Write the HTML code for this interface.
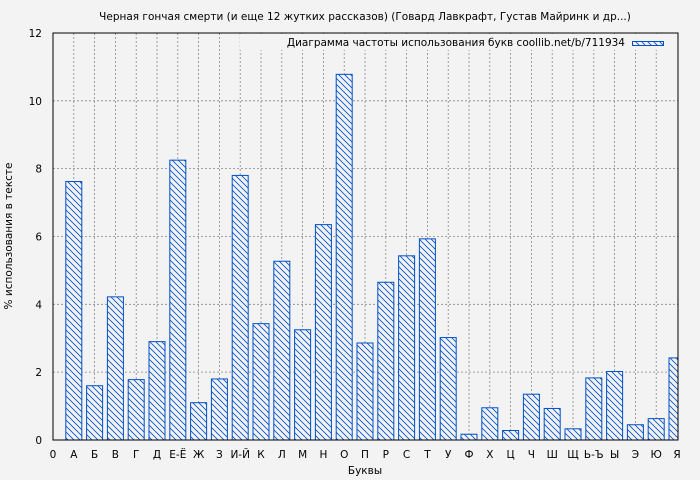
<!DOCTYPE html>
<html><head><meta charset="utf-8"><style>
body{margin:0;background:#f3f3f3;width:700px;height:480px;overflow:hidden}
svg{display:block;font-family:"DejaVu Sans","Liberation Sans",sans-serif}
</style></head><body>
<svg id="s" width="700" height="480" xmlns="http://www.w3.org/2000/svg">
<defs>
<pattern id="h" patternUnits="userSpaceOnUse" width="6" height="6">
<rect width="6" height="6" fill="#f3f3f3"/>
<path d="M-1,-1 L7,7 M-1,5 L1,7 M5,-1 L7,1" stroke="#0050c8" stroke-width="0.8"/>
</pattern>
<clipPath id="c"><rect x="53" y="33" width="625" height="407"/></clipPath>
</defs>
<rect width="700" height="480" fill="#f3f3f3"/>
<text x="365" y="20" font-size="10.5" text-anchor="middle" fill="#000">Черная гончая смерти (и еще 12 жутких рассказов) (Говард Лавкрафт, Густав Майринк и др...)</text>
<g id="grid"></g>
<g id="bars" clip-path="url(#c)"></g>
<rect x="53" y="33" width="625" height="407" fill="none" stroke="#000" stroke-width="1"/>
<rect x="240" y="34" width="436" height="16" fill="#f3f3f3"/>
<text x="625" y="46" font-size="10.5" text-anchor="end">Диаграмма частоты использования букв coollib.net/b/711934</text>
<rect x="632.5" y="41.5" width="31" height="4" fill="url(#h)" stroke="#0050c8"/>
<g id="lab" font-size="10.5"></g>
<text x="365" y="474" font-size="10.5" text-anchor="middle">Буквы</text>
<text transform="translate(12,236) rotate(-90)" font-size="10.5" text-anchor="middle">% использования в тексте</text>
</svg>
<script>
var L=["0","А","Б","В","Г","Д","Е-Ё","Ж","З","И-Й","К","Л","М","Н","О","П","Р","С","Т","У","Ф","Х","Ц","Ч","Ш","Щ","Ь-Ъ","Ы","Э","Ю","Я"];
var V=[null,7.62,1.6,4.22,1.78,2.9,8.25,1.1,1.8,7.8,3.43,5.27,3.25,6.35,10.78,2.86,4.65,5.43,5.93,3.02,0.17,0.95,0.28,1.35,0.93,0.33,1.83,2.02,0.45,0.63,2.42];
var g="",b="",l="",x0=53,dx=20.8,y0=440,k=33.92;
for(var i=0;i<31;i++){var x=x0+i*dx;
 if(i>0&&i<30)g+='<line x1="'+x+'" y1="33" x2="'+x+'" y2="440" stroke="#888" stroke-dasharray="2,2" stroke-width="0.8"/>';
 l+='<text x="'+x+'" y="458" text-anchor="middle">'+L[i]+'</text>';
 if(V[i]!=null){var h=V[i]*k;b+='<rect x="'+(x-8)+'" y="'+(y0-h)+'" width="16" height="'+h+'" fill="url(#h)" stroke="#0050c8" stroke-width="1"/>';}
}
for(var j=0;j<=12;j+=2){var y=y0-j*k;
 if(j>0&&j<12)g+='<line x1="53" y1="'+y+'" x2="678" y2="'+y+'" stroke="#888" stroke-dasharray="2,2" stroke-width="0.8"/>';
 l+='<text x="42" y="'+(y+4)+'" text-anchor="end">'+j+'</text>';
}
document.getElementById("grid").innerHTML=g;
document.getElementById("bars").innerHTML=b;
document.getElementById("lab").innerHTML=l;
</script>
</body></html>
